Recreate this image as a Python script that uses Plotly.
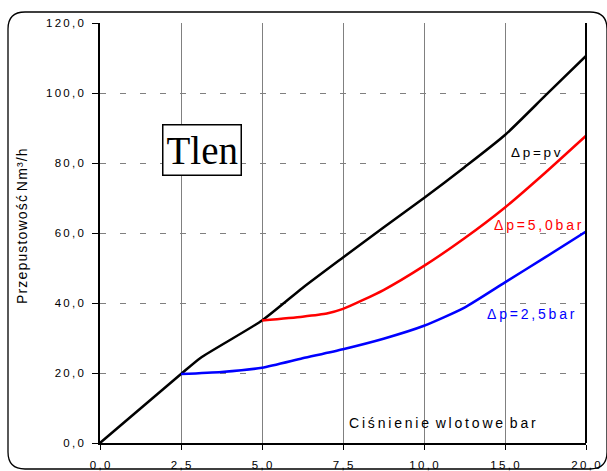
import numpy as np
import plotly.graph_objects as go

# category ticks of the x axis (bar) -- equally spaced on the chart
x_ticks_bar = [0.0, 2.5, 5.0, 7.5, 10.0, 15.0, 20.0]
x_tick_labels = ["0,0", "2,5", "5,0", "7,5", "10,0", "15,0", "20,0"]
y_ticks = [0, 20, 40, 60, 80, 100, 120]
y_tick_labels = ["0,0", "20,0", "40,0", "60,0", "80,0", "100,0", "120,0"]

# Δp = pv (black)
pv_x = [0.0, 2.5, 3.1, 5.0, 6.25, 7.5, 8.75, 10.0, 12.5, 15.0, 17.5, 20.0]
pv_y = [0.0, 19.7, 24.3, 35.0, 44.3, 53.0, 61.6, 70.0, 78.8, 88.0, 99.3, 110.6]

# Δp = 5,0 bar (red)
p50_x = [5.0, 6.25, 7.0, 7.5, 8.75, 10.0, 12.5, 15.0, 17.5, 20.0]
p50_y = [35.0, 36.1, 37.0, 38.3, 43.7, 50.6, 58.5, 67.3, 77.3, 87.8]

# Δp = 2,5 bar (blue)
p25_x = [2.5, 3.75, 5.0, 6.25, 7.5, 8.75, 10.0, 12.5, 15.0, 17.5, 20.0]
p25_y = [19.7, 20.3, 21.5, 24.2, 26.8, 29.8, 33.5, 38.7, 45.9, 53.1, 60.4]

idx = list(range(len(x_ticks_bar)))


def pos(xs):
    return np.interp(xs, x_ticks_bar, idx)


def spaced(s, sep="\u2009"):
    return sep.join(s)


fig = go.Figure()
for xs, ys, col in [(pv_x, pv_y, "#000000"), (p50_x, p50_y, "#FF0000"), (p25_x, p25_y, "#0000FF")]:
    fig.add_trace(go.Scatter(x=pos(xs), y=ys, mode="lines",
                             line=dict(color=col, width=2.5, shape="spline", smoothing=0.6),
                             showlegend=False, hoverinfo="skip"))

font = "Arial, Liberation Sans, sans-serif"

fig.update_layout(
    width=607, height=471,
    margin=dict(l=100, r=21, t=23, b=28),
    paper_bgcolor="white", plot_bgcolor="white",
    font=dict(family=font, size=11, color="black"),
)
fig.update_xaxes(
    range=[0, 6], tickvals=idx, ticktext=[spaced(t) for t in x_tick_labels],
    showgrid=True, gridcolor="#808080", gridwidth=1.2,
    showline=True, linecolor="black", linewidth=1.5,
    ticks="outside", ticklen=5, tickcolor="black", ticklabelstandoff=5,
    zeroline=False, tickfont=dict(size=11.5), automargin=False,
)
fig.update_yaxes(
    range=[0, 120], tickvals=y_ticks, ticktext=[spaced(t) for t in y_tick_labels],
    showgrid=True, gridcolor="#808080", gridwidth=1, griddash="6px,14px",
    showline=True, linecolor="black", linewidth=1.5,
    ticks="outside", ticklen=6, tickcolor="black", ticklabelstandoff=6,
    zeroline=False, tickfont=dict(size=11.5), automargin=False,
)

# right border of the plot area
fig.add_shape(type="line", xref="paper", yref="paper", x0=1, x1=1, y0=0, y1=1,
              line=dict(color="black", width=2))

# rounded outer frame
W, H = 486.0, 420.0
def px(x):
    return (x - 100) / W
def py(y):
    return (443 - y) / H
L, T, R, B, r = 8, 12, 607, 469, 17
path = (f"M {px(L)},{py(T + r)} Q {px(L)},{py(T)} {px(L + r)},{py(T)} "
        f"L {px(R - r)},{py(T)} Q {px(R)},{py(T)} {px(R)},{py(T + r)} "
        f"L {px(R)},{py(B - r)} Q {px(R)},{py(B)} {px(R - r)},{py(B)} "
        f"L {px(L + r)},{py(B)} Q {px(L)},{py(B)} {px(L)},{py(B - r)} Z")
fig.add_shape(type="path", xref="paper", yref="paper", path=path,
              line=dict(color="black", width=1.3), layer="below")

# y axis title
fig.add_annotation(xref="paper", yref="paper", x=px(22), y=py(226),
                   text=spaced("Przepustowość", "\u200a") + " " + spaced("Nm³/h", "\u200a"),
                   showarrow=False, textangle=-90, font=dict(size=14, color="black"),
                   xanchor="center", yanchor="middle")

# "Tlen" box
fig.add_annotation(xref="paper", yref="paper", x=px(202), y=py(150), text="Tlen",
                   showarrow=False, font=dict(family="Times New Roman, Liberation Serif, serif", size=39, color="black"),
                   bordercolor="black", borderwidth=1.5, borderpad=3, bgcolor="white",
                   xanchor="center", yanchor="middle")

labels = [
    ("Δ\u2009p\u2009=\u2009p\u2009v", 536, 152, "black", 13.5),
    ("Δ\u2009p\u2009=\u20095\u2009,\u20090\u2009b\u2009a\u2009r", 538, 225, "#FF0000", 14),
    ("Δ\u2009p\u2009=\u20092\u2009,\u20095\u2009b\u2009a\u2009r", 531, 314, "#0000FF", 14),
    (spaced("Ciśnienie") + "\u2009 " + spaced("wlotowe") + "\u2009 " + spaced("bar"), 442, 423, "black", 14),
]
for txt, x, y, col, sz in labels:
    fig.add_annotation(xref="paper", yref="paper", x=px(x), y=py(y), text=txt,
                       showarrow=False, font=dict(size=sz, color=col),
                       xanchor="center", yanchor="middle")

fig.write_html("out.html", config={"displayModeBar": False},
               post_script="document.body.style.margin='0';document.body.style.overflow='hidden';")
